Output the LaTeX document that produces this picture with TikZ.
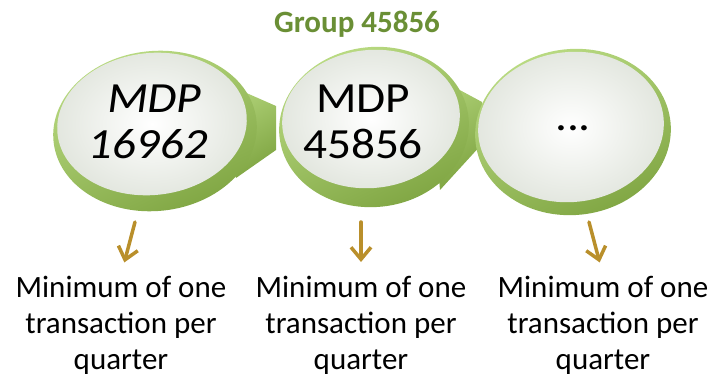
\documentclass[tikz,border=0pt]{standalone}
\usepackage{fontspec}
\setmainfont{Carlito}
\usetikzlibrary{arrows.meta}
\definecolor{rimlight}{HTML}{BBDC84}
\definecolor{rimdark}{HTML}{7FA542}
\definecolor{facegray}{HTML}{E2E6DE}
\definecolor{grouptext}{HTML}{6A8F35}
\definecolor{arrowgold}{HTML}{B98F2B}
\begin{document}
\begin{tikzpicture}[x=1pt,y=1pt,line join=round,line cap=round,
		rim/.style={top color=rimlight,bottom color=rimdark,shading angle=25},
		face/.style={inner color=white,outer color=facegray},
		band/.style={top color=rimlight!80!rimdark,bottom color=rimdark,shading angle=30},
		mdp/.style={font=\fontsize{43}{46}\selectfont,align=center,xscale=1.1,transform shape},
		note/.style={font=\fontsize{31}{36}\selectfont,align=center,inner sep=1pt,anchor=north},
		goes/.style={-{Straight Barb[length=12pt,width=20pt,line width=3.5pt]},line width=3.5pt,arrowgold,shorten >=13pt}]
	\useasboundingbox (0,0) rectangle (713,-377);
	
	\node[font=\bfseries\fontsize{31}{36}\selectfont,text=grouptext,anchor=base] (group) at (357,-33) {Group 45856};
	
	% ribbons between the discs
	\shade[band] (226,-84)--(276,-106)--(276,-150)--(236,-178)--cycle;
	\shade[band] (430,-74)--(482,-102)--(482,-144)--(440,-190)--cycle;
	
	% discs
	\shade[rim,rotate around={6:(155,-131)}] (155,-131) ellipse (102 and 80);
	\shade[face,rotate around={6:(152,-124)}] (152,-124) ellipse (95 and 71);
	\shade[rim,rotate around={6:(374,-127)}] (374,-127) ellipse (95 and 80);
	\shade[face,rotate around={6:(371,-119)}] (371,-119) ellipse (89 and 69);
	\shade[rim,rotate around={6:(573,-132)}] (573,-132) ellipse (98 and 83);
	\shade[face,rotate around={6:(571,-127)}] (571,-127) ellipse (93 and 75);
	
	\node[mdp,xslant=.12] (m1) at (152,-122) {MDP\\16962};
	\node[mdp] (m2) at (363,-122) {MDP\\45856};
	\node[mdp] (m3) at (573,-128) {...};
	
	\node[note] (n1) at (121,-275) {Minimum of one\\transaction per\\quarter};
	\node[note] (n2) at (361,-275) {Minimum of one\\transaction per\\quarter};
	\node[note] (n3) at (603,-275) {Minimum of one\\transaction per\\quarter};
	
	\coordinate (t1) at (135,-222);
	\coordinate (t2) at (361,-222);
	\coordinate (t3) at (589,-222);
	\draw[goes] (t1)--(n1.north);
	\draw[goes] (t2)--(n2.north);
	\draw[goes] (t3)--(n3.north);
\end{tikzpicture}
\end{document}
